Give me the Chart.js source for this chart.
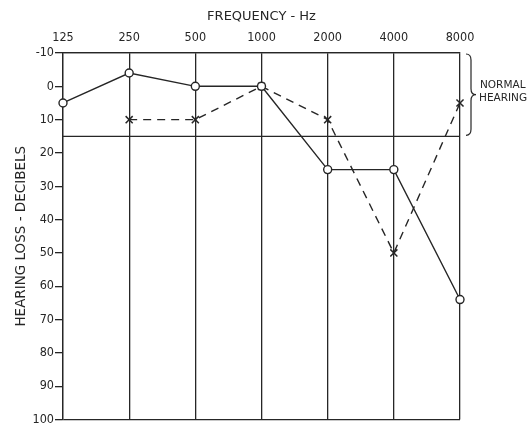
<!DOCTYPE html>
<html>
<head>
<meta charset="utf-8">
<script src="https://cdn.jsdelivr.net/npm/chart.js@4"></script>
<style>
  body { margin: 0; background: #fff; }
  #wrap { width: 532px; height: 428px; }
</style>
</head>
<body>
<div id="wrap"><canvas id="audiogram"></canvas></div>
<script>
// audiogram values, dB hearing loss per frequency
const frequencies = ['125', '250', '500', '1000', '2000', '4000', '8000'];
const solidLoss = [5, -4, 0, 0, 25, 25, 64];
const dashedLoss = [null, 10, 10, 0, 10, 50, 5];
const normalLimit = 15;
const lossMin = -10;
const lossMax = 100;

const ink = '#262626';
const font = "'DejaVu Sans Condensed', 'DejaVu Sans'";
const wideFont = "'DejaVu Sans'";

// curly brace + "NORMAL HEARING" on the right
const normalBrace = {
  id: 'normalBrace',
  afterDraw(chart) {
    const c = chart.ctx;
    const y = chart.scales.y;
    const top = y.getPixelForValue(lossMin) + 1;
    const bot = y.getPixelForValue(normalLimit) - 1;
    const mid = (top + bot) / 2;
    const x0 = chart.chartArea.right + 6;
    const w = 5;
    c.save();
    c.strokeStyle = ink;
    c.lineWidth = 1.2;
    c.beginPath();
    c.moveTo(x0, top);
    c.quadraticCurveTo(x0 + w, top, x0 + w, top + 6);
    c.lineTo(x0 + w, mid - 6);
    c.quadraticCurveTo(x0 + w, mid, x0 + w * 2, mid);
    c.quadraticCurveTo(x0 + w, mid, x0 + w, mid + 6);
    c.lineTo(x0 + w, bot - 6);
    c.quadraticCurveTo(x0 + w, bot, x0, bot);
    c.stroke();
    c.fillStyle = ink;
    c.font = '10.5px ' + wideFont;
    c.textBaseline = 'middle';
    c.fillText('NORMAL', x0 + 14, mid - 9);
    c.fillText('HEARING', x0 + 13, mid + 4);
    c.restore();
  }
};

new Chart(document.getElementById('audiogram'), {
  type: 'line',
  data: {
    labels: frequencies,
    datasets: [
      {
        label: 'solid',
        data: solidLoss,
        borderColor: ink,
        borderWidth: 1.4,
        pointStyle: 'circle',
        pointRadius: 4,
        pointBackgroundColor: '#fff',
        pointBorderColor: ink,
        pointBorderWidth: 1.4
      },
      {
        label: 'dashed',
        data: dashedLoss,
        borderColor: ink,
        borderWidth: 1.4,
        borderDash: [8, 6],
        pointStyle: 'crossRot',
        pointRadius: 5,
        pointBorderColor: ink,
        pointBorderWidth: 1.5
      },
      {
        label: 'limit',
        data: frequencies.map(() => normalLimit),
        borderColor: ink,
        borderWidth: 1.3,
        pointRadius: 0
      }
    ]
  },
  options: {
    responsive: true,
    maintainAspectRatio: false,
    animation: false,
    layout: { padding: { right: 72, bottom: 6 } },
    plugins: {
      legend: { display: false },
      tooltip: { enabled: false }
    },
    scales: {
      x: {
        position: 'top',
        offset: false,
        afterFit: (s) => { s.height = 53; },
        grid: { color: ink, lineWidth: 1.3, drawTicks: false },
        border: { color: ink, width: 1.3 },
        ticks: { color: ink, padding: 8, font: { family: font, size: 12.5 } },
        title: {
          display: true,
          text: 'FREQUENCY - Hz',
          color: ink,
          font: { family: wideFont, size: 13 },
          padding: { top: 9, bottom: 0 }
        }
      },
      y: {
        reverse: true,
        min: lossMin,
        max: lossMax,
        afterFit: (s) => { s.width = 63; },
        grid: {
          color: (ctx) => (ctx.tick && (ctx.tick.value === lossMin || ctx.tick.value === lossMax)) ? ink : 'rgba(0,0,0,0)',
          tickColor: ink,
          tickLength: 8,
          lineWidth: 1.3
        },
        border: { color: ink, width: 1.3 },
        ticks: { stepSize: 10, color: ink, padding: 1, font: { family: font, size: 12.5 } },
        title: {
          display: true,
          text: 'HEARING LOSS - DECIBELS',
          color: ink,
          font: { family: wideFont, size: 13.5 },
          padding: { top: 13, bottom: 0 }
        }
      }
    }
  },
  plugins: [normalBrace]
});
</script>
</body>
</html>
